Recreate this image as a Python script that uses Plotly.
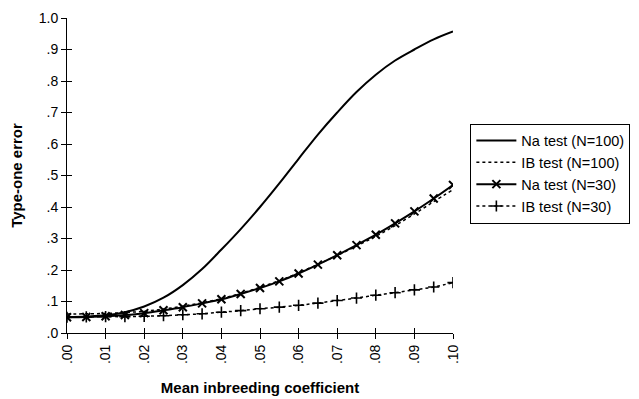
import plotly.graph_objects as go

# Data
x_vals = [0.000, 0.005, 0.010, 0.015, 0.020, 0.025, 0.030, 0.035, 0.040, 0.045, 0.050,
          0.055, 0.060, 0.065, 0.070, 0.075, 0.080, 0.085, 0.090, 0.095, 0.100]
na_n100 = [0.050, 0.052, 0.056, 0.066, 0.084, 0.112, 0.152, 0.203, 0.265, 0.330, 0.400,
           0.475, 0.553, 0.630, 0.700, 0.765, 0.820, 0.865, 0.900, 0.932, 0.957]
ib_n100 = [0.060, 0.061, 0.062, 0.065, 0.069, 0.076, 0.085, 0.096, 0.109, 0.126, 0.145,
           0.166, 0.191, 0.218, 0.246, 0.276, 0.307, 0.341, 0.378, 0.417, 0.455]
na_n30 = [0.050, 0.051, 0.053, 0.057, 0.063, 0.072, 0.082, 0.094, 0.107, 0.124, 0.143,
          0.164, 0.189, 0.217, 0.247, 0.279, 0.312, 0.348, 0.386, 0.427, 0.470]
ib_n30 = [0.050, 0.051, 0.052, 0.052, 0.053, 0.055, 0.058, 0.061, 0.066, 0.071, 0.077,
          0.082, 0.088, 0.095, 0.103, 0.111, 0.120, 0.128, 0.137, 0.146, 0.160]

x_ticks = [0.00, 0.01, 0.02, 0.03, 0.04, 0.05, 0.06, 0.07, 0.08, 0.09, 0.10]
x_ticktext = [".00", ".01", ".02", ".03", ".04", ".05", ".06", ".07", ".08", ".09", ".10"]
y_ticks = [0.0, 0.1, 0.2, 0.3, 0.4, 0.5, 0.6, 0.7, 0.8, 0.9, 1.0]
y_ticktext = [".0", ".1", ".2", ".3", ".4", ".5", ".6", ".7", ".8", ".9", "1.0"]

FONT = "Liberation Sans, Arial, sans-serif"

fig = go.Figure()
fig.add_trace(go.Scatter(x=x_vals, y=na_n100, mode="lines", name="Na test (N=100)",
                         line=dict(color="black", width=2, shape="spline")))
fig.add_trace(go.Scatter(x=x_vals, y=ib_n100, mode="lines", name="IB test (N=100)",
                         line=dict(color="black", width=1.5, dash="dot", shape="spline")))
fig.add_trace(go.Scatter(x=x_vals, y=na_n30, mode="lines+markers", name="Na test (N=30)",
                         line=dict(color="black", width=2, shape="spline"),
                         marker=dict(symbol="x-thin-open", size=8, color="black",
                                     line=dict(color="black", width=2))))
# drawn on the matching overlay axes so their inside ticks are rendered too
fig.add_trace(go.Scatter(x=x_vals, y=ib_n30, mode="lines+markers", name="IB test (N=30)",
                         xaxis="x2", yaxis="y2",
                         line=dict(color="black", width=1.5, dash="dot", shape="spline"),
                         marker=dict(symbol="cross-thin-open", size=8, color="black",
                                     line=dict(color="black", width=1.6))))

# the page body adds an 8 px offset, so the figure is 8 px smaller and shifted
fig.update_layout(
    width=631, height=391,
    margin=dict(l=59, r=186, t=10, b=66, autoexpand=False),
    paper_bgcolor="white", plot_bgcolor="white",
    font=dict(family=FONT, color="black", size=14),
    showlegend=True,
    legend=dict(x=1.045, y=0.665, xanchor="left", yanchor="top",
                bordercolor="black", borderwidth=1, bgcolor="white",
                font=dict(family=FONT, size=14.5, color="black"),
                tracegroupgap=0, itemwidth=40),
    xaxis=dict(range=[0, 0.1], tickvals=x_ticks, ticktext=x_ticktext, tickangle=-90,
               automargin=False,
               showgrid=False, zeroline=False, showline=True, linecolor="black", linewidth=1,
               ticks="outside", ticklen=5, tickcolor="black",
               tickfont=dict(family=FONT, size=14, color="black"),
               title=dict(text="<b>Mean inbreeding coefficient</b>", standoff=19,
                          font=dict(family=FONT, size=15, color="black"))),
    yaxis=dict(range=[0, 1.0], tickvals=y_ticks, ticktext=y_ticktext,
               automargin=False,
               showgrid=False, zeroline=False, showline=True, linecolor="black", linewidth=1,
               ticks="outside", ticklen=5, tickcolor="black",
               tickfont=dict(family=FONT, size=14, color="black"),
               title=dict(text="<b>Type-one error</b>", standoff=12,
                          font=dict(family=FONT, size=15, color="black"))),
    xaxis2=dict(overlaying="x", matches="x", anchor="y2", side="bottom", range=[0, 0.1],
                automargin=False,
                tickvals=x_ticks, showticklabels=False, ticks="inside", ticklen=5,
                tickcolor="black", showgrid=False, zeroline=False, showline=False),
    yaxis2=dict(overlaying="y", matches="y", anchor="x2", side="left", range=[0, 1.0],
                automargin=False,
                tickvals=y_ticks, showticklabels=False, ticks="inside", ticklen=5,
                tickcolor="black", showgrid=False, zeroline=False, showline=False),
)

fig.write_html("out.html")
